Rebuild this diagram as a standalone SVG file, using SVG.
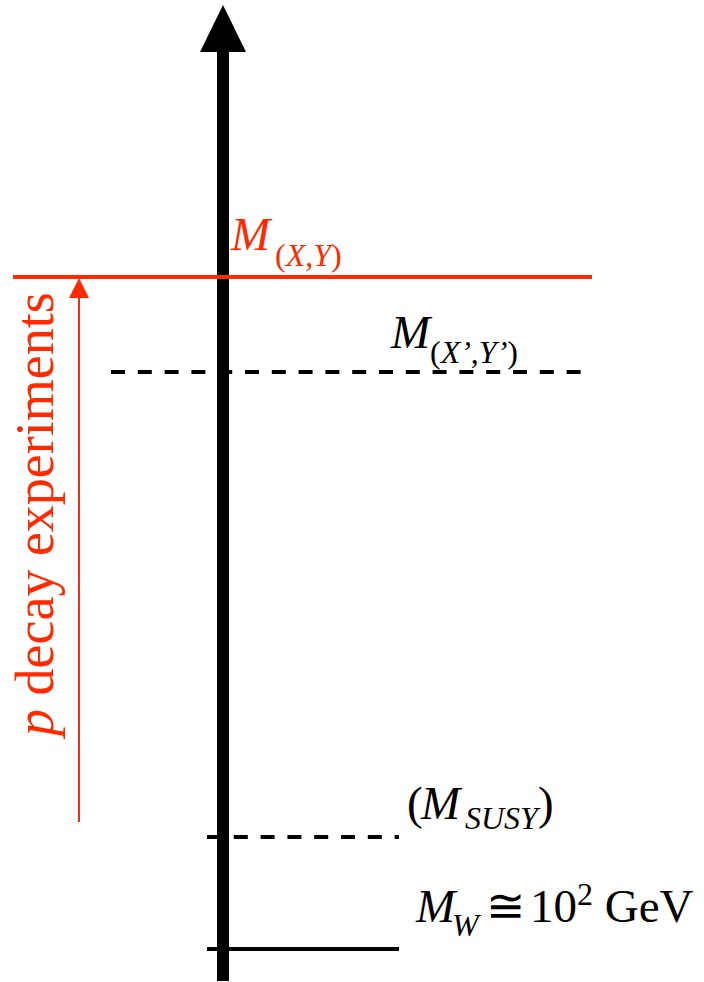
<svg xmlns="http://www.w3.org/2000/svg" width="704" height="982" viewBox="0 0 704 982">
<style>
.t{font-family:'Liberation Serif','Times New Roman',serif;font-size:47px;fill:#000}
.r{fill:#ff2a00}
.i{font-style:italic}
.sub{font-size:32px}
.dash{stroke:#000;stroke-width:4;stroke-dasharray:14 12.8;fill:none}
</style>
<rect width="704" height="982" fill="#fff"/>
<g id="connectors">
  <line x1="223" y1="50" x2="223" y2="981" stroke="#000" stroke-width="12"/>
  <polygon points="223,5 246,52 200,52" fill="#000"/>
  <line x1="13" y1="277" x2="592" y2="277" stroke="#ff2a00" stroke-width="4"/>
  <line class="dash" x1="111" y1="372" x2="584" y2="372"/>
  <line class="dash" x1="207" y1="837" x2="399" y2="837"/>
  <line x1="207" y1="949" x2="399" y2="949" stroke="#000" stroke-width="4"/>
  <line x1="79" y1="295" x2="79" y2="822" stroke="#ff2a00" stroke-width="2"/>
  <polygon points="79,278 89,298 69,298" fill="#ff2a00"/>
</g>
<g id="label-mxy">
  <text class="t r" x="231" y="250"><tspan class="i">M</tspan><tspan class="sub" x="275" y="266">(<tspan class="i">X</tspan>,<tspan class="i">Y</tspan>)</tspan></text>
</g>
<g id="label-mxy-prime">
  <text class="t" x="391" y="348"><tspan class="i">M</tspan><tspan class="sub" x="430" y="363">(<tspan class="i">X’</tspan>,<tspan class="i">Y’</tspan>)</tspan></text>
</g>
<g id="label-msusy">
  <text class="t" x="407" y="819">(<tspan class="i" x="421">M</tspan><tspan class="sub i" x="465" y="829">SUSY</tspan><tspan x="538" y="819">)</tspan></text>
</g>
<g id="label-mw">
  <text class="t" x="416" y="922"><tspan class="i">M</tspan><tspan class="sub i" x="452" y="936">W</tspan><tspan x="486" y="922">≅</tspan><tspan x="530" y="922">10</tspan><tspan class="sub" y="905">2</tspan><tspan y="922"> GeV</tspan></text>
</g>
<g id="label-p-decay">
  <text class="t r" style="font-size:54px" transform="translate(53,736) rotate(-90)"><tspan class="i">p</tspan> decay experiments</text>
</g>
</svg>
